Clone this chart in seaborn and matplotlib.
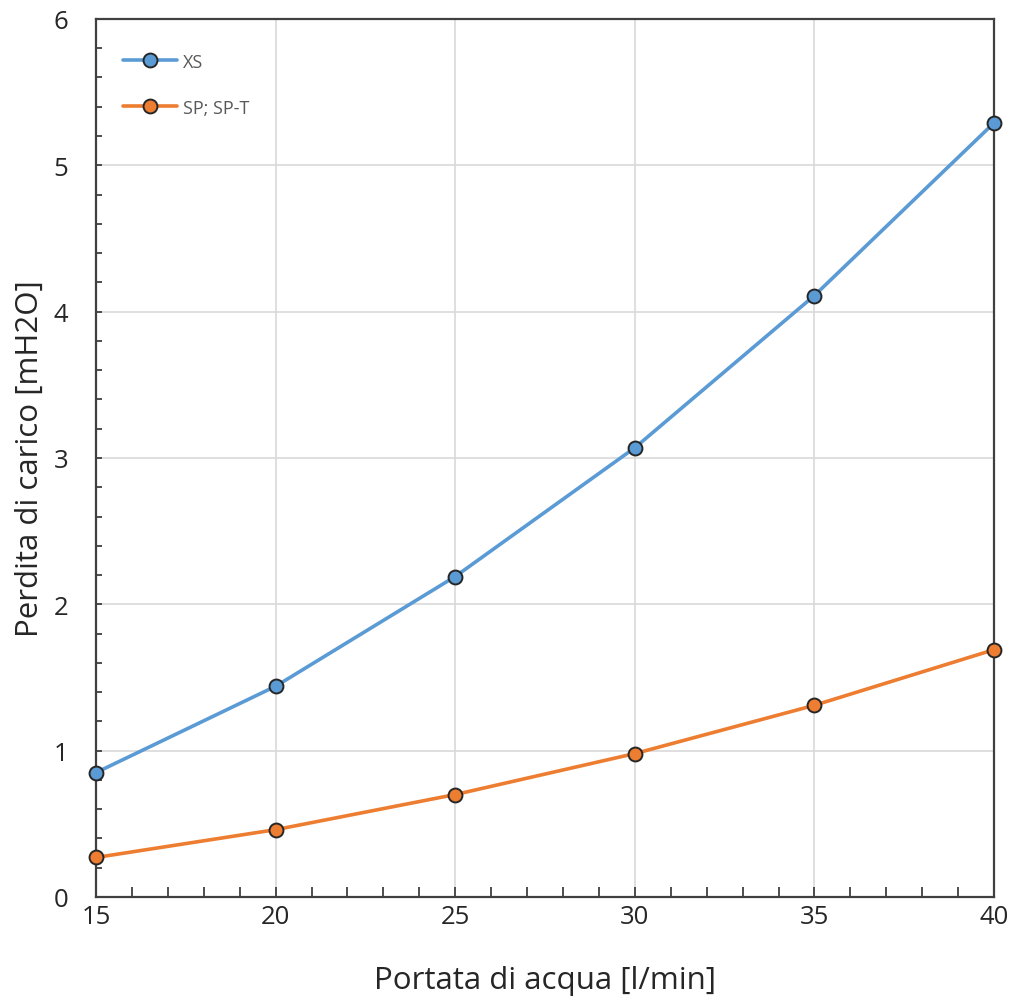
import matplotlib
matplotlib.use("Agg")
import matplotlib.pyplot as plt
import numpy as np
import pandas as pd
import seaborn as sns
from matplotlib.ticker import MultipleLocator

# dati
portata = [15, 20, 25, 30, 35, 40]
perdita_xs = [0.85, 1.44, 2.19, 3.07, 4.11, 5.29]
perdita_sp = [0.27, 0.46, 0.70, 0.98, 1.31, 1.69]
serie = ["XS", "SP; SP-T"]
colori = ["#5b9bd5", "#ed7d31"]

df = pd.DataFrame({
    "portata": portata * 2,
    "perdita": perdita_xs + perdita_sp,
    "serie": [serie[0]] * len(portata) + [serie[1]] * len(portata),
})

sns.set_style("white")
plt.rcParams["font.family"] = ["Open Sans", "DejaVu Sans"]

fig = plt.figure(figsize=(10.14, 10.03), dpi=100)
ax = fig.add_axes([0.0947, 0.1047, 0.8856, 0.8754])

sns.lineplot(data=df, x="portata", y="perdita", hue="serie",
             palette=colori, marker="o", markersize=10,
             markeredgecolor="#262626", markeredgewidth=1.4,
             linewidth=2.6, ax=ax, zorder=3, clip_on=False)

ax.set_xlim(15, 40)
ax.set_ylim(0, 6)
ax.xaxis.set_major_locator(MultipleLocator(5))
ax.xaxis.set_minor_locator(MultipleLocator(1))
ax.yaxis.set_major_locator(MultipleLocator(1))
ax.yaxis.set_minor_locator(MultipleLocator(0.2))

ax.grid(True, which="major", color="#d9d9d9", linewidth=1.2, zorder=0)
ax.tick_params(axis="x", which="both", direction="in", length=7,
               width=1.3, color="#404040", labelsize=18.5,
               labelcolor="#262626", pad=5, bottom=True)
ax.tick_params(axis="y", which="both", direction="in", length=4,
               width=1.3, color="#404040", labelsize=18.5,
               labelcolor="#262626", pad=20, left=True)

for s in ax.spines.values():
    s.set_color("#404040")
    s.set_linewidth(1.6)

ax.set_xlabel("Portata di acqua [l/min]", fontsize=22.5, color="#262626", labelpad=26)
ax.set_ylabel("Perdita di carico [mH2O]", fontsize=22.5, color="#262626", labelpad=6)

leg = ax.legend(loc="upper left", frameon=False, fontsize=13,
                bbox_to_anchor=(0.012, 0.98), handlelength=3.0,
                labelspacing=1.55, handletextpad=0.3)
for t in leg.get_texts():
    t.set_color("#595959")

fig.savefig("out.png", dpi=100)
